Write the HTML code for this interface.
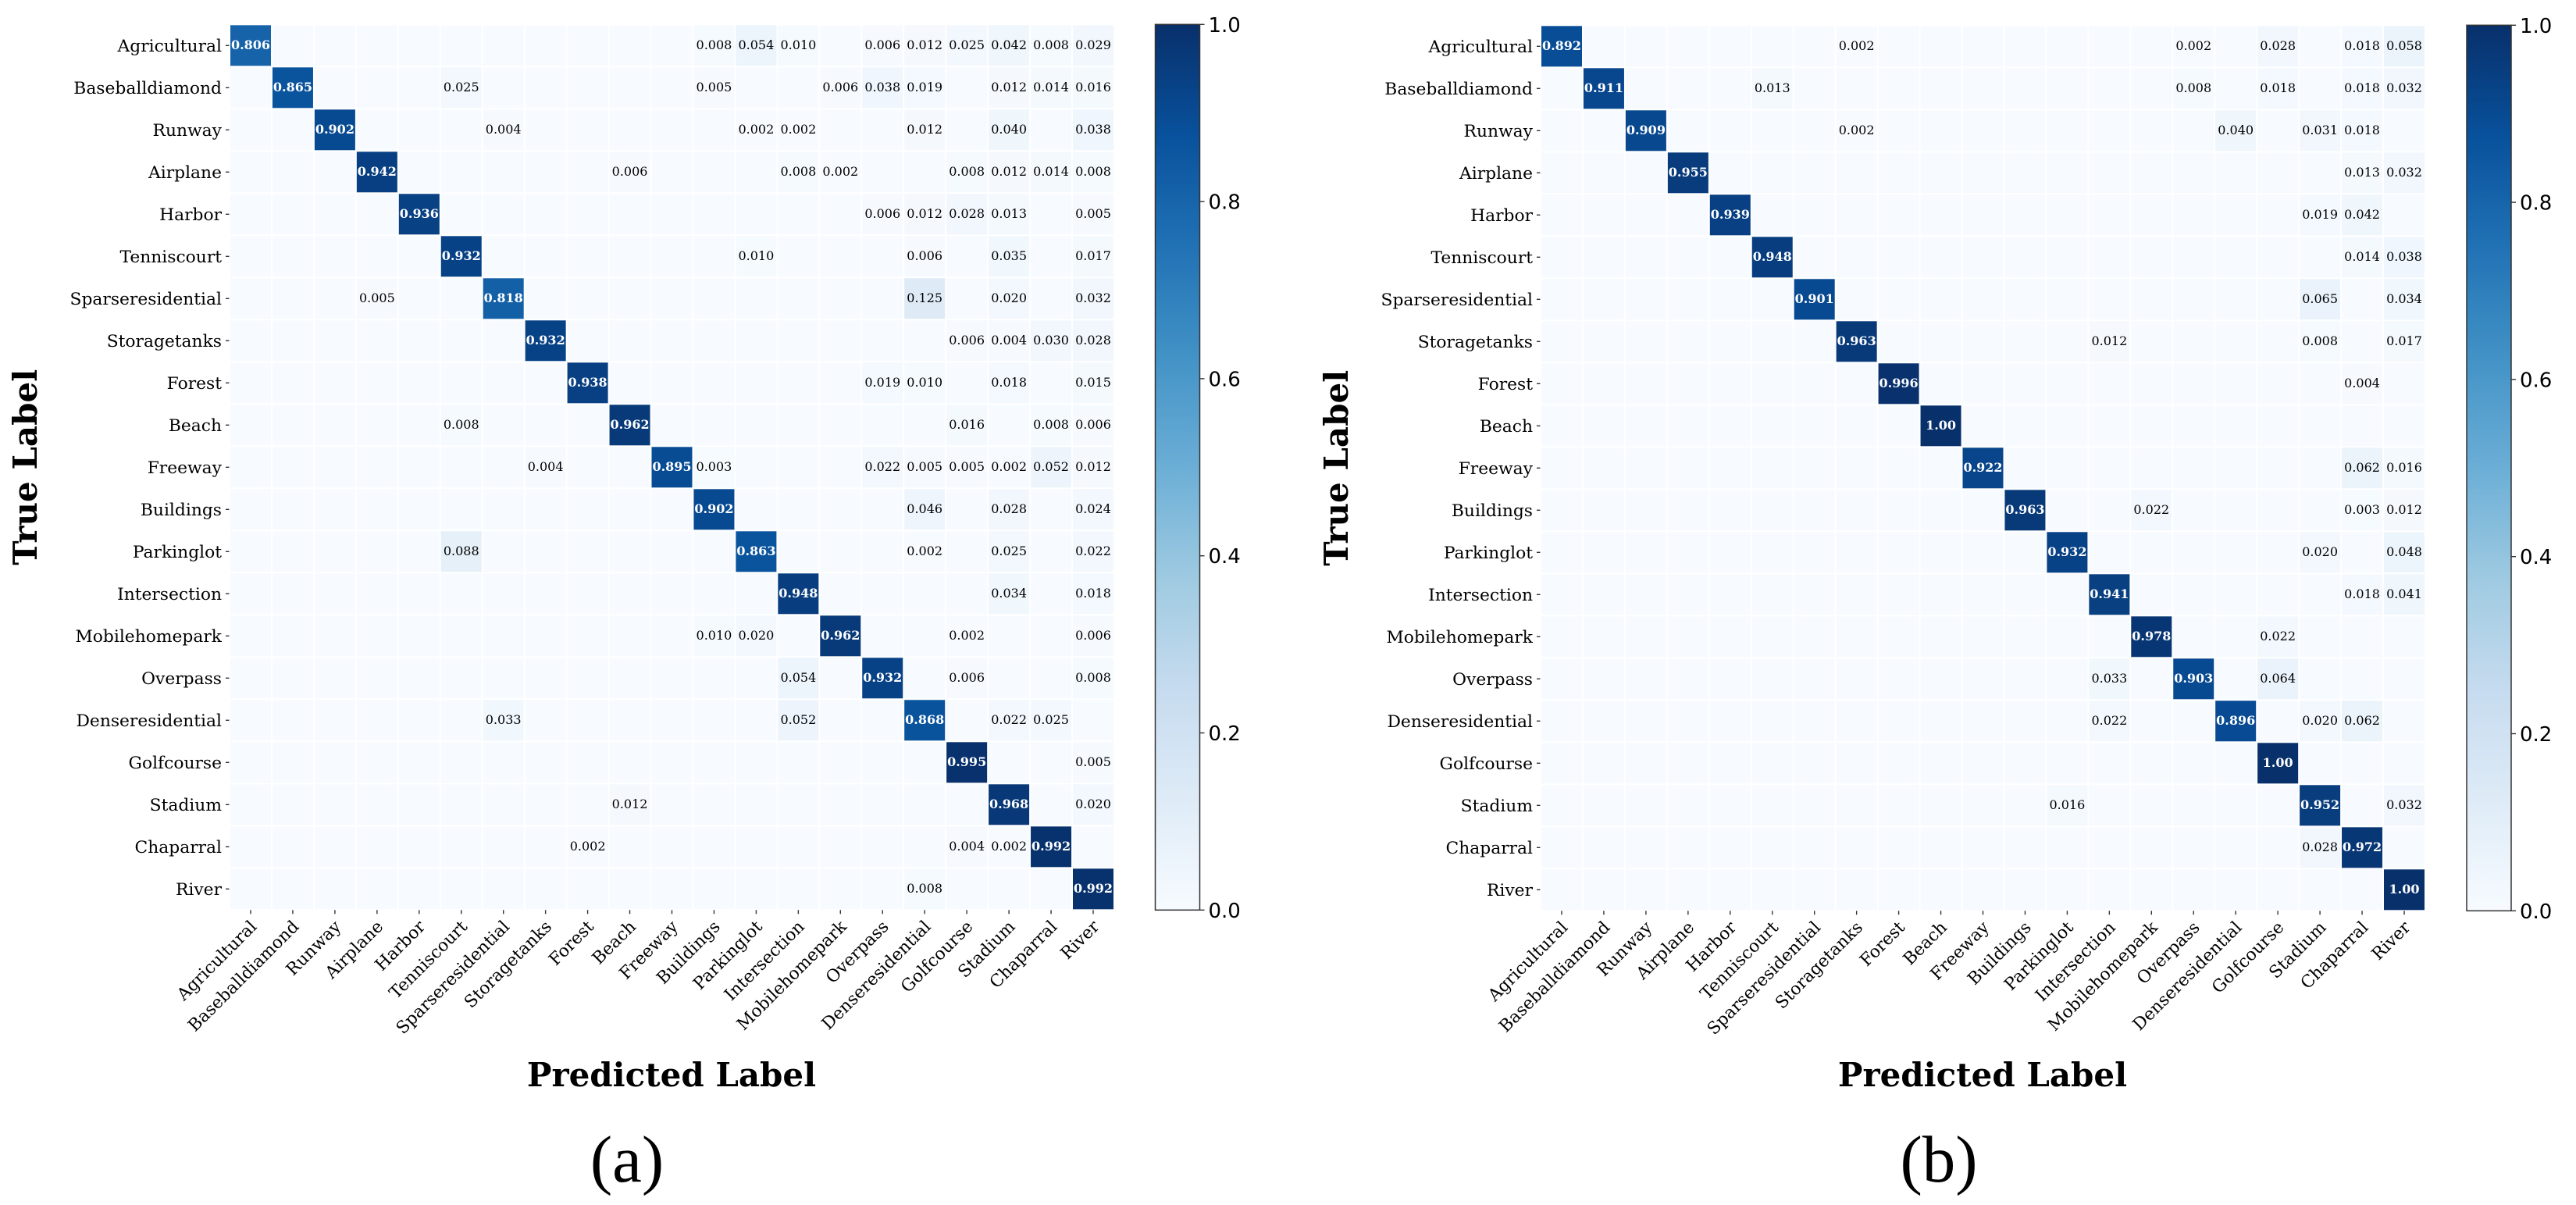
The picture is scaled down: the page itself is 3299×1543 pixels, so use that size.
<!DOCTYPE html>
<html lang="en">
<head>
<meta charset="utf-8">
<title>Confusion matrices</title>
<style>
html,body{margin:0;padding:0;background:#fff;}
#chart{display:block;position:absolute;left:0;top:0;}
text{fill:#000;}
.serif{font-family:"DejaVu Serif","Liberation Serif",serif;}
.sans{font-family:"DejaVu Sans","Liberation Sans",sans-serif;}
.cap{font-family:"Liberation Serif",serif;}
</style>
</head>
<body>
<svg id="chart" xmlns="http://www.w3.org/2000/svg" width="3299" height="1543" viewBox="0 0 3299 1543">
<defs>
<linearGradient id="blues-ramp" x1="0" y1="1" x2="0" y2="0">
<stop offset="0" stop-color="#f7fbff"/><stop offset="0.125" stop-color="#deebf7"/><stop offset="0.25" stop-color="#c6dbef"/><stop offset="0.375" stop-color="#9ecae1"/><stop offset="0.5" stop-color="#6baed6"/><stop offset="0.625" stop-color="#4292c6"/><stop offset="0.75" stop-color="#2171b5"/><stop offset="0.875" stop-color="#08519c"/><stop offset="1" stop-color="#08306b"/>
</linearGradient>
</defs>
</svg>
<script>
const categories = ["Agricultural","Baseballdiamond","Runway","Airplane","Harbor","Tenniscourt","Sparseresidential","Storagetanks","Forest","Beach","Freeway","Buildings","Parkinglot","Intersection","Mobilehomepark","Overpass","Denseresidential","Golfcourse","Stadium","Chaparral","River"];
const colorbarTicks = [0, 0.2, 0.4, 0.6, 0.8, 1.0];
const blues = ["#f7fbff","#deebf7","#c6dbef","#9ecae1","#6baed6","#4292c6","#2171b5","#08519c","#08306b"];

const matrixA = [
[.806,0,0,0,0,0,0,0,0,0,0,.008,.054,.010,0,.006,.012,.025,.042,.008,.029],
[0,.865,0,0,0,.025,0,0,0,0,0,.005,0,0,.006,.038,.019,0,.012,.014,.016],
[0,0,.902,0,0,0,.004,0,0,0,0,0,.002,.002,0,0,.012,0,.040,0,.038],
[0,0,0,.942,0,0,0,0,0,.006,0,0,0,.008,.002,0,0,.008,.012,.014,.008],
[0,0,0,0,.936,0,0,0,0,0,0,0,0,0,0,.006,.012,.028,.013,0,.005],
[0,0,0,0,0,.932,0,0,0,0,0,0,.010,0,0,0,.006,0,.035,0,.017],
[0,0,0,.005,0,0,.818,0,0,0,0,0,0,0,0,0,.125,0,.020,0,.032],
[0,0,0,0,0,0,0,.932,0,0,0,0,0,0,0,0,0,.006,.004,.030,.028],
[0,0,0,0,0,0,0,0,.938,0,0,0,0,0,0,.019,.010,0,.018,0,.015],
[0,0,0,0,0,.008,0,0,0,.962,0,0,0,0,0,0,0,.016,0,.008,.006],
[0,0,0,0,0,0,0,.004,0,0,.895,.003,0,0,0,.022,.005,.005,.002,.052,.012],
[0,0,0,0,0,0,0,0,0,0,0,.902,0,0,0,0,.046,0,.028,0,.024],
[0,0,0,0,0,.088,0,0,0,0,0,0,.863,0,0,0,.002,0,.025,0,.022],
[0,0,0,0,0,0,0,0,0,0,0,0,0,.948,0,0,0,0,.034,0,.018],
[0,0,0,0,0,0,0,0,0,0,0,.010,.020,0,.962,0,0,.002,0,0,.006],
[0,0,0,0,0,0,0,0,0,0,0,0,0,.054,0,.932,0,.006,0,0,.008],
[0,0,0,0,0,0,.033,0,0,0,0,0,0,.052,0,0,.868,0,.022,.025,0],
[0,0,0,0,0,0,0,0,0,0,0,0,0,0,0,0,0,.995,0,0,.005],
[0,0,0,0,0,0,0,0,0,.012,0,0,0,0,0,0,0,0,.968,0,.020],
[0,0,0,0,0,0,0,0,.002,0,0,0,0,0,0,0,0,.004,.002,.992,0],
[0,0,0,0,0,0,0,0,0,0,0,0,0,0,0,0,.008,0,0,0,.992]
];

const matrixB = [
[.892,0,0,0,0,0,0,.002,0,0,0,0,0,0,0,.002,0,.028,0,.018,.058],
[0,.911,0,0,0,.013,0,0,0,0,0,0,0,0,0,.008,0,.018,0,.018,.032],
[0,0,.909,0,0,0,0,.002,0,0,0,0,0,0,0,0,.040,0,.031,.018,0],
[0,0,0,.955,0,0,0,0,0,0,0,0,0,0,0,0,0,0,0,.013,.032],
[0,0,0,0,.939,0,0,0,0,0,0,0,0,0,0,0,0,0,.019,.042,0],
[0,0,0,0,0,.948,0,0,0,0,0,0,0,0,0,0,0,0,0,.014,.038],
[0,0,0,0,0,0,.901,0,0,0,0,0,0,0,0,0,0,0,.065,0,.034],
[0,0,0,0,0,0,0,.963,0,0,0,0,0,.012,0,0,0,0,.008,0,.017],
[0,0,0,0,0,0,0,0,.996,0,0,0,0,0,0,0,0,0,0,.004,0],
[0,0,0,0,0,0,0,0,0,1,0,0,0,0,0,0,0,0,0,0,0],
[0,0,0,0,0,0,0,0,0,0,.922,0,0,0,0,0,0,0,0,.062,.016],
[0,0,0,0,0,0,0,0,0,0,0,.963,0,0,.022,0,0,0,0,.003,.012],
[0,0,0,0,0,0,0,0,0,0,0,0,.932,0,0,0,0,0,.020,0,.048],
[0,0,0,0,0,0,0,0,0,0,0,0,0,.941,0,0,0,0,0,.018,.041],
[0,0,0,0,0,0,0,0,0,0,0,0,0,0,.978,0,0,.022,0,0,0],
[0,0,0,0,0,0,0,0,0,0,0,0,0,.033,0,.903,0,.064,0,0,0],
[0,0,0,0,0,0,0,0,0,0,0,0,0,.022,0,0,.896,0,.020,.062,0],
[0,0,0,0,0,0,0,0,0,0,0,0,0,0,0,0,0,1,0,0,0],
[0,0,0,0,0,0,0,0,0,0,0,0,.016,0,0,0,0,0,.952,0,.032],
[0,0,0,0,0,0,0,0,0,0,0,0,0,0,0,0,0,0,.028,.972,0],
[0,0,0,0,0,0,0,0,0,0,0,0,0,0,0,0,0,0,0,0,1]
];

const svg = document.getElementById('chart');
const NS = 'http://www.w3.org/2000/svg';

function make(tag, attrs, parent, txt) {
  const el = document.createElementNS(NS, tag);
  for (const k in attrs) el.setAttribute(k, attrs[k]);
  if (txt !== undefined) el.textContent = txt;
  (parent || svg).appendChild(el);
  return el;
}

function colorFor(v) {
  const p = Math.max(0, Math.min(1, v)) * (blues.length - 1);
  const i = Math.min(Math.floor(p), blues.length - 2);
  const t = p - i;
  const a = parseInt(blues[i].slice(1), 16), b = parseInt(blues[i + 1].slice(1), 16);
  const ch = s => Math.round(((a >> s) & 255) * (1 - t) + ((b >> s) & 255) * t);
  return 'rgb(' + ch(16) + ',' + ch(8) + ',' + ch(0) + ')';
}

function formatValue(v) {
  return v === 1 ? '1.00' : v.toFixed(3);
}

function drawPanel(matrix, p) {
  const pitchX = 53.95, pitchY = 54, cellW = 52, cellH = 52;
  const xScale = c => p.left + c * pitchX;
  const yScale = r => p.top + r * pitchY;
  const n = categories.length;

  const g = make('g', {}, svg);
  
  

  matrix.forEach((row, r) => {
    row.forEach((v, c) => {
      const rect = make('rect', {x: xScale(c), y: yScale(r), width: cellW, height: cellH, fill: colorFor(v)}, g);
      
      
      if (v > 0) {
        const strong = v > 0.5;
        const t = make('text', {
          x: xScale(c) + cellW / 2,
          y: yScale(r) + cellH / 2 + 4.8,
          'text-anchor': 'middle',
          'class': 'serif',
          'font-size': 16,
          'font-weight': strong ? 'bold' : 'normal',
          style: 'fill:' + (strong ? '#ffffff' : '#000000')
        }, g, formatValue(v));
        
        
      }
    });
  });

  const bottom = yScale(n - 1) + cellH;
  categories.forEach((name, i) => {
    const cy = yScale(i) + cellH / 2;
    const yt = make('line', {x1: p.left - 6, x2: p.left - 1.5, y1: cy, y2: cy, stroke: '#333', 'stroke-width': 1.4}, g);
    
    
    const yl = make('text', {x: p.left - 11, y: cy + 7.8, 'text-anchor': 'end', 'class': 'serif', 'font-size': 21.8}, g, name);
    
    

    const cx = xScale(i) + cellW / 2;
    const xt = make('line', {x1: cx, x2: cx, y1: bottom + 1, y2: bottom + 6, stroke: '#333', 'stroke-width': 1.4}, g);
    
    
    const xl = make('text', {
      'text-anchor': 'end',
      'class': 'serif',
      'font-size': 21.8,
      transform: 'translate(' + (cx + 9) + ',' + (bottom + 23.5) + ') rotate(-45)'
    }, g, name);
    
    
  });

  const yTitle = make('text', {
    'text-anchor': 'middle',
    'class': 'serif',
    'font-size': 42,
    'font-weight': 'bold',
    transform: 'translate(' + p.yTitleX + ',' + (p.top + 566) + ') rotate(-90)'
  }, g, 'True Label');
  
  

  const xTitle = make('text', {
    x: p.left + 565, y: 1391, 'text-anchor': 'middle', 'class': 'serif', 'font-size': 42, 'font-weight': 'bold'
  }, g, 'Predicted Label');
  
  

  const cbTop = p.top - 1, cbBottom = bottom + 1, cbH = cbBottom - cbTop;
  const cbY = v => cbBottom - v * cbH;
  const bar = make('rect', {x: p.cbLeft, y: cbTop, width: 57, height: cbH, fill: 'url(#blues-ramp)', stroke: '#333', 'stroke-width': 1.5}, g);
  
  
  colorbarTicks.forEach(v => {
    const tk = make('line', {x1: p.cbLeft + 57, x2: p.cbLeft + 63, y1: cbY(v), y2: cbY(v), stroke: '#333', 'stroke-width': 1.4}, g);
    
    
    const tl = make('text', {x: p.cbLeft + 68, y: cbY(v) + 9.5, 'class': 'sans', 'font-size': 26}, g, v.toFixed(1));
    
    
  });

  const cap = make('text', {x: p.capX, y: 1513, 'text-anchor': 'middle', 'class': 'cap', 'font-size': 85}, g, p.caption);
  
  
}

drawPanel(matrixA, {name: 'a', left: 295, top: 32.3, yTitleX: 47, cbLeft: 1479.5, capX: 803, caption: '(a)'});
drawPanel(matrixB, {name: 'b', left: 1974, top: 33.3, yTitleX: 1726, cbLeft: 3159, capX: 2483, caption: '(b)'});
</script>
</body>
</html>
